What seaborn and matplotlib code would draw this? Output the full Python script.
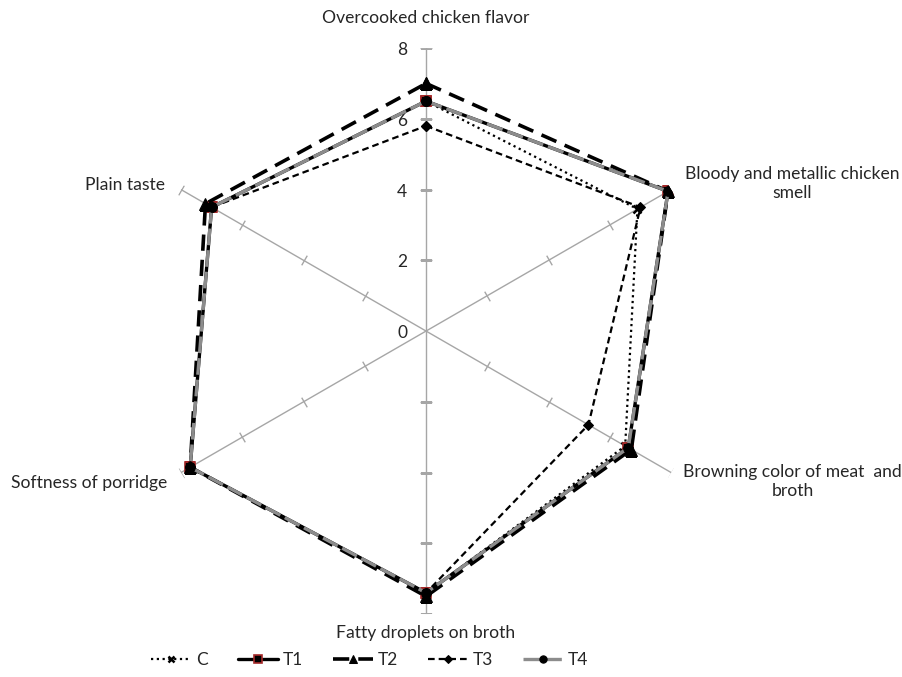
import numpy as np
import pandas as pd
import matplotlib.pyplot as plt
import seaborn as sns

categories = ["Overcooked chicken flavor", "Bloody and metallic chicken\nsmell",
              "Browning color of meat  and\nbroth", "Fatty droplets on broth",
              "Softness of porridge", "Plain taste"]
c_vals = [6.5, 6.9, 6.5, 7.4, 7.7, 7.0]
t1_vals = [6.5, 7.9, 6.6, 7.4, 7.7, 7.0]
t2_vals = [7.0, 7.9, 6.7, 7.5, 7.7, 7.2]
t3_vals = [5.8, 7.0, 5.3, 7.4, 7.7, 7.0]
t4_vals = [6.5, 7.9, 6.6, 7.4, 7.7, 7.0]
r_ticks = [0, 2, 4, 6, 8]

sns.set_theme(style="white")
plt.rcParams['font.family'] = ['Lato', 'DejaVu Sans']

n = len(categories)
theta = np.linspace(0, 2 * np.pi, n, endpoint=False)

fig = plt.figure(figsize=(9.02, 6.77), dpi=100)
ax = fig.add_axes([0.1586, 0.093, 0.6275, 0.836], projection='polar')
ax.set_theta_zero_location('N')
ax.set_theta_direction(-1)
ax.set_ylim(0, 8)
ax.grid(False)
ax.spines['polar'].set_visible(False)
ax.set_xticks([])
ax.set_yticks([])
ax.set_facecolor('white')

# spokes with small cross ticks
for t in theta:
    ax.plot([t, t], [0, 8], color='#a6a6a6', lw=1, zorder=1)
    ang = 90 - np.degrees(t)
    ax.plot([t] * 4, [2, 4, 6, 8], ls='none', marker=(2, 0, ang), ms=8,
            mec='#a6a6a6', mew=1, zorder=1)

series = {
    "C": (c_vals, dict(color='black', lw=1.6, linestyle=(0, (1, 1.6)), marker='x',
                       ms=6, mew=1.8, mec='black')),
    "T1": (t1_vals, dict(color='black', lw=2.4, linestyle='-', marker='s',
                         ms=7, mfc='black', mec='#a52a2a', mew=1.2)),
    "T2": (t2_vals, dict(color='black', lw=2.6, linestyle=(0, (4.5, 2.5)), marker='^',
                         ms=8, mfc='black', mec='black')),
    "T3": (t3_vals, dict(color='black', lw=1.6, linestyle=(0, (3, 1.8)), marker='D',
                         ms=5, mfc='black', mec='black')),
    "T4": (t4_vals, dict(color='#8c8c8c', lw=2.4, linestyle=(0, (5, 1.5)), marker='o',
                         ms=7, mfc='black', mec='black')),
}

for i, (name, (vals, style)) in enumerate(series.items()):
    df = pd.DataFrame({"theta": np.append(theta, 2 * np.pi),
                       "r": vals + [vals[0]]})
    sns.lineplot(data=df, x="theta", y="r", sort=False, estimator=None, ax=ax,
                 label=name, zorder=3 + i, **style)

ax.set_xlabel("")
ax.set_ylabel("")
ax.set_ylim(0, 8)

# radial tick labels on the top spoke
for v in r_ticks:
    ax.annotate(str(v), (0, v), xytext=(-24, -2), textcoords='offset pixels',
                ha='center', va='center', fontsize=12.5)

# category labels
fs = 12.6
label_pos = [
    ((0, 30), 'center'),
    ((14, 6), 'left'),
    ((12, -9), 'left'),
    ((0, -19), 'center'),
    ((-14, -10), 'right'),
    ((-16, 5), 'right'),
]
for t, cat, (off, ha) in zip(theta, categories, label_pos):
    ax.annotate(cat, (t, 8), xytext=off, textcoords='offset pixels',
                ha=ha, va='center', multialignment='center', fontsize=fs,
                linespacing=1.25)

handles, labels = ax.get_legend_handles_labels()
ax.get_legend().remove()
fig.legend(handles, labels, loc='center', bbox_to_anchor=(0.41, 0.025), ncol=5,
           frameon=False, fontsize=12.5, handlelength=2.3, columnspacing=1.7,
           handletextpad=0.3, markerscale=0.75)

fig.savefig("out.png", dpi=100, facecolor='white')
